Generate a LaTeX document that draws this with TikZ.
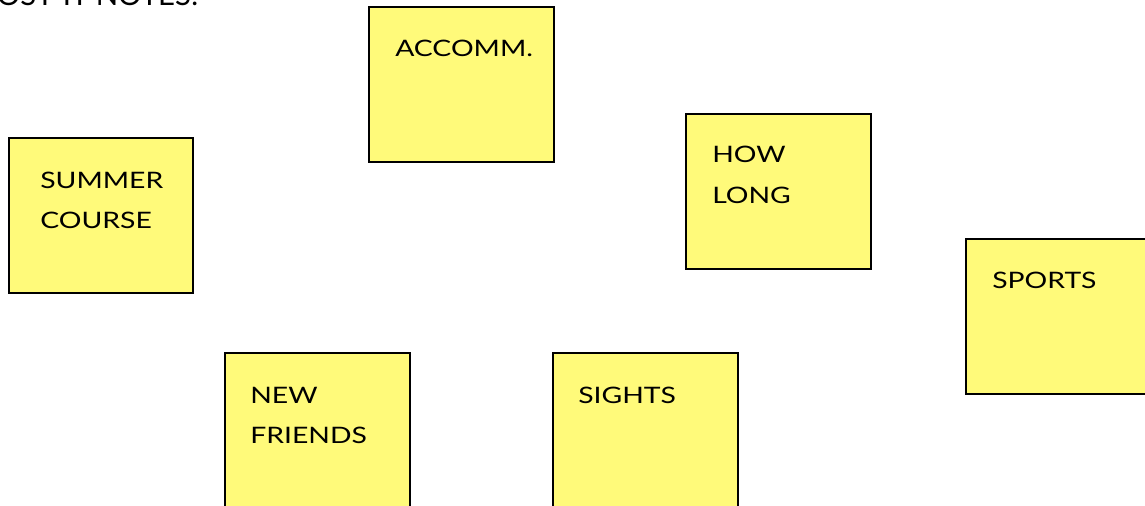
\documentclass[tikz,border=0pt]{standalone}
\usepackage{fontspec}
\setmainfont{Lato}
\newfontfamily\notefont[FakeStretch=1.25]{Lato}
\definecolor{postit}{RGB}{255,250,122}
\tikzset{
  note/.style={draw=black, line width=1.6pt, fill=postit},
  notetext/.style={anchor=base west, inner sep=0pt, font=\notefont\fontsize{17}{20}\selectfont},
  title/.style={anchor=base west, inner sep=0pt, font=\fontsize{22}{26}\selectfont}
}
\begin{document}
\begin{tikzpicture}[x=0.75pt, y=-0.75pt]
  \useasboundingbox[clip] (0,0) rectangle (1145,506);
  \fill[white] (0,0) rectangle (1145,506);
  \node[title] (head) at (-21,6) {POST-IT NOTES:};
  % the six notes
  \draw[note] (369,7) rectangle (554,162);
  \draw[note] (9,138) rectangle (193,293);
  \draw[note] (686,114) rectangle (871,269);
  \draw[note] (966,239) rectangle (1151,394);
  \draw[note] (225,353) rectangle (410,512);
  \draw[note] (553,353) rectangle (738,512);
  % note labels
  \node[notetext] (accomm) at (395,57) {ACCOMM.};
  \node[notetext] (summer) at (40,188) {SUMMER};
  \node[notetext] (course) at (40,228) {COURSE};
  \node[notetext] (how) at (712,163) {HOW};
  \node[notetext] (long) at (712,203) {LONG};
  \node[notetext] (sports) at (992,288) {SPORTS};
  \node[notetext] (new) at (250,403) {NEW};
  \node[notetext] (friends) at (250,443) {FRIENDS};
  \node[notetext] (sights) at (578,403) {SIGHTS};
\end{tikzpicture}
\end{document}
